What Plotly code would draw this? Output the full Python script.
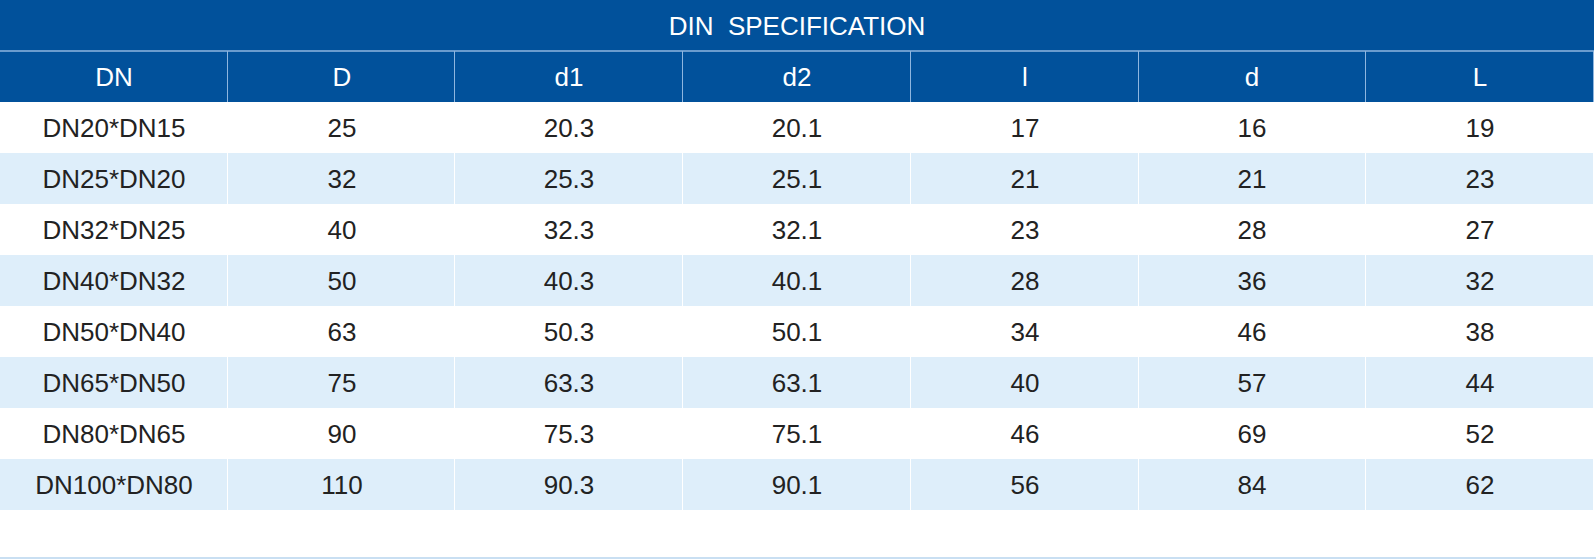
import plotly.graph_objects as go

title = "DIN  SPECIFICATION"
columns = ["DN", "D", "d1", "d2", "l", "d", "L"]
dn = ["DN20*DN15", "DN25*DN20", "DN32*DN25", "DN40*DN32", "DN50*DN40", "DN65*DN50", "DN80*DN65", "DN100*DN80"]
D = [25, 32, 40, 50, 63, 75, 90, 110]
d1 = [20.3, 25.3, 32.3, 40.3, 50.3, 63.3, 75.3, 90.3]
d2 = [20.1, 25.1, 32.1, 40.1, 50.1, 63.1, 75.1, 90.1]
l_ = [17, 21, 23, 28, 34, 40, 46, 56]
d = [16, 21, 28, 36, 46, 57, 69, 84]
L = [19, 23, 27, 32, 38, 44, 52, 62]

BLUE = "#01519b"
LIGHT = "#deeefa"
LINE_HDR = "#8fb6df"
TEXT = "#222222"
FONT = "Liberation Sans, Arial, sans-serif"
FS = 26
W, H = 1596, 560
ROW_PX = 51  # pixel height of one table row

ncol = len(columns)
nrow = len(dn)
body_cols = [dn, D, d1, d2, l_, d, L]

xs = list(range(ncol))
# row index 0 = title, 1 = header, 2.. = body rows
body_y = [i + 2 for i in range(nrow)]
body_text = [[str(body_cols[c][r]) for c in range(ncol)] for r in range(nrow)]
body_z = [[r % 2 for _ in range(ncol)] for r in range(nrow)]

fig = go.Figure()

# light blue backing under the header so its cell gaps read as separators
fig.add_shape(type="rect", xref="x", yref="y", x0=-0.5, x1=ncol - 0.5, y0=0.5, y1=1.5,
              fillcolor=LINE_HDR, line_width=0, layer="below")

# title band: one merged cell spanning all columns
fig.add_trace(go.Heatmap(
    x=[-0.5, ncol - 0.5], y=[-0.5, 0.5], z=[[1]],
    colorscale=[[0, BLUE], [1, BLUE]], showscale=False,
    text=[[title]], texttemplate="%{text}",
    textfont=dict(family=FONT, size=FS, color="white"), hoverinfo="skip",
))

# header row
fig.add_trace(go.Heatmap(
    x=xs, y=[1], z=[[1] * ncol],
    colorscale=[[0, BLUE], [1, BLUE]], showscale=False, xgap=1,
    text=[columns], texttemplate="%{text}",
    textfont=dict(family=FONT, size=FS, color="white"), hoverinfo="skip",
))

# body rows with alternating fill
fig.add_trace(go.Heatmap(
    x=xs, y=body_y, z=body_z, zmin=0, zmax=1,
    colorscale=[[0, "white"], [1, LIGHT]], showscale=False, xgap=1,
    text=body_text, texttemplate="%{text}",
    textfont=dict(family=FONT, size=FS, color=TEXT), hoverinfo="skip",
))

# separator between title band and header
fig.add_shape(type="line", xref="x", yref="y", x0=-0.5, x1=ncol - 0.5, y0=0.5, y1=0.5,
              line=dict(color=LINE_HDR, width=1.5))
# thin rule at the bottom of the page
fig.add_shape(type="line", xref="paper", yref="paper", x0=0, x1=1, y0=2 / H, y1=2 / H,
              line=dict(color="#c9dff2", width=2))

fig.update_xaxes(domain=[0, 1594 / W], range=[-0.5, ncol - 0.5], visible=False,
                 showgrid=False, zeroline=False, fixedrange=True)
fig.update_yaxes(range=[H / ROW_PX - 0.5, -0.5], visible=False,
                 showgrid=False, zeroline=False, fixedrange=True)

fig.update_layout(width=W, height=H, margin=dict(l=0, r=0, t=0, b=0),
                  paper_bgcolor="white", plot_bgcolor="white", showlegend=False)

fig.write_html("out.html", config={"displayModeBar": False},
               post_script="document.body.style.margin='0';")
